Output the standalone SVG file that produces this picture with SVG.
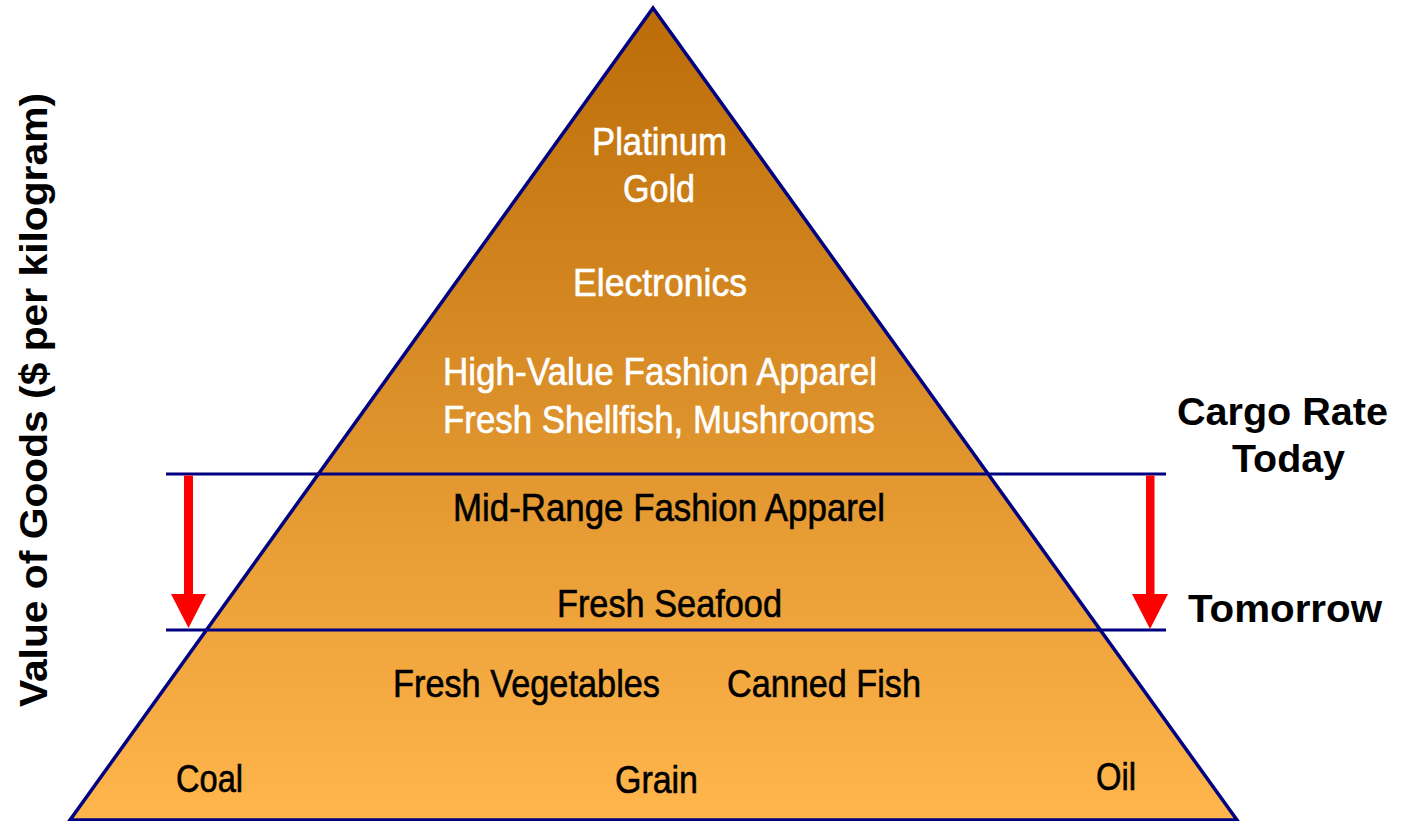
<svg xmlns="http://www.w3.org/2000/svg" width="1404" height="821" viewBox="0 0 1404 821">
  <style>
    .n { font-family: "Liberation Sans Narrow", "Liberation Sans", Arial, sans-serif; font-size: 38px; stroke-width: 0.6; }
    .w { fill: #ffffff; stroke: #ffffff; }
    .k { fill: #000000; stroke: #000000; }
    .b { font-family: "Liberation Sans", Arial, sans-serif; font-weight: bold; font-size: 38px; fill: #000000; }
    .lvl { stroke: #000080; stroke-width: 3; fill: none; }
    .arr { fill: #ff0000; }
  </style>
  <defs>
    <linearGradient id="pg" x1="0" y1="8" x2="0" y2="820" gradientUnits="userSpaceOnUse">
      <stop offset="0" stop-color="#bb6c08"/>
      <stop offset="1" stop-color="#ffb64c"/>
    </linearGradient>
  </defs>
  <rect width="1404" height="821" fill="#ffffff"/>

  <g id="pyramid">
    <polygon points="653,8 1237,820 70,820" fill="url(#pg)" stroke="#000080" stroke-width="3.5" stroke-linejoin="miter"/>
  </g>

  <g id="connectors">
    <line class="lvl" x1="166" y1="474" x2="1166" y2="474"/>
    <line class="lvl" x1="166" y1="630" x2="1166" y2="630"/>
    <rect class="arr" x="184" y="475.5" width="9" height="120"/>
    <polygon class="arr" points="171,594 206,594 188.5,628"/>
    <rect class="arr" x="1146" y="475.5" width="8.5" height="120"/>
    <polygon class="arr" points="1132,594 1168,594 1150,629"/>
  </g>

  <g id="tier-top">
    <text class="n w" x="592" y="155" textLength="135" lengthAdjust="spacingAndGlyphs">Platinum</text>
    <text class="n w" x="623" y="202" textLength="72" lengthAdjust="spacingAndGlyphs">Gold</text>
  </g>
  <g id="tier-electronics">
    <text class="n w" x="573" y="296" textLength="174" lengthAdjust="spacingAndGlyphs">Electronics</text>
  </g>
  <g id="tier-highvalue">
    <text class="n w" x="443" y="385" textLength="434" lengthAdjust="spacingAndGlyphs">High-Value Fashion Apparel</text>
    <text class="n w" x="443" y="433" textLength="432" lengthAdjust="spacingAndGlyphs">Fresh Shellfish, Mushrooms</text>
  </g>
  <g id="tier-midrange">
    <text class="n k" x="453" y="521" textLength="432" lengthAdjust="spacingAndGlyphs">Mid-Range Fashion Apparel</text>
  </g>
  <g id="tier-seafood">
    <text class="n k" x="557" y="617" textLength="225" lengthAdjust="spacingAndGlyphs">Fresh Seafood</text>
  </g>
  <g id="tier-vegetables">
    <text class="n k" x="393" y="697" textLength="267" lengthAdjust="spacingAndGlyphs">Fresh Vegetables</text>
    <text class="n k" x="727" y="697" textLength="194" lengthAdjust="spacingAndGlyphs">Canned Fish</text>
  </g>
  <g id="tier-bulk">
    <text class="n k" x="176" y="792" textLength="67" lengthAdjust="spacingAndGlyphs">Coal</text>
    <text class="n k" x="615" y="793" textLength="83" lengthAdjust="spacingAndGlyphs">Grain</text>
    <text class="n k" x="1096" y="790" textLength="40" lengthAdjust="spacingAndGlyphs">Oil</text>
  </g>

  <g id="label-today">
    <text class="b" x="1177" y="425" textLength="211" lengthAdjust="spacingAndGlyphs">Cargo Rate</text>
    <text class="b" x="1232" y="472" textLength="113" lengthAdjust="spacingAndGlyphs">Today</text>
  </g>
  <g id="label-tomorrow">
    <text class="b" x="1188" y="622" textLength="194" lengthAdjust="spacingAndGlyphs">Tomorrow</text>
  </g>
  <g id="axis-label">
    <text class="b" transform="translate(47,707) rotate(-90)" x="0" y="0" font-size="40" textLength="614" lengthAdjust="spacingAndGlyphs">Value of Goods ($ per kilogram)</text>
  </g>
</svg>
